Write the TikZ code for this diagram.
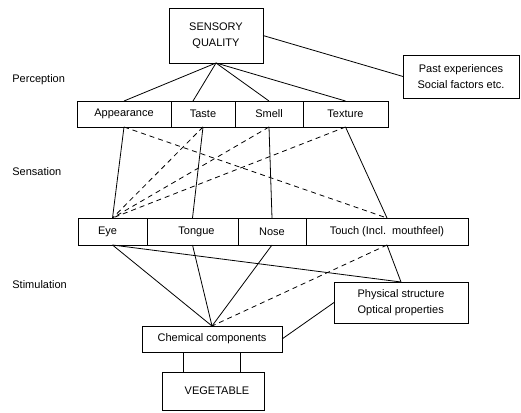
\documentclass[tikz,border=0pt]{standalone}
\usepackage{fontspec}
\setmainfont{Liberation Sans}
\begin{document}
\begin{tikzpicture}[x=1pt,y=-1pt,line width=0.8pt,
  font=\fontsize{11}{15.5}\selectfont,
  box/.style={draw,rectangle,inner sep=0pt,outer sep=0pt,align=center},
  dsh/.style={dash pattern=on 5pt off 4pt},
  lbl/.style={anchor=west,inner sep=0pt}]
\useasboundingbox (0,0) rectangle (521,412);
% top
\node[box,minimum width=94pt,minimum height=55pt] (sq) at (216,35.5) {SENSORY\\QUALITY};
\node[box,minimum width=116pt,minimum height=43pt] (past) at (461,76.5) {Past experiences\\Social factors etc.};
% perception row
\node[box,minimum width=94pt,minimum height=26pt] (app) at (124,114) {Appearance};
\node[box,minimum width=64pt,minimum height=26pt] (taste) at (203,114) {Taste};
\node[box,minimum width=68pt,minimum height=26pt] (smell) at (269,114) {Smell};
\node[box,minimum width=85pt,minimum height=26pt] (text) at (345.5,114) {Texture};
% sensation row
\node[box,minimum width=69pt,minimum height=27pt] (eye) at (112.5,231.5) {Eye\hspace{10pt}};
\node[box,minimum width=91pt,minimum height=27pt] (tongue) at (192.5,231.5) {\hspace{8pt}Tongue};
\node[box,minimum width=68pt,minimum height=27pt] (nose) at (272,231.5) {Nose};
\node[box,minimum width=162pt,minimum height=27pt] (touch) at (387,231.5) {Touch (Incl.\ \ mouthfeel)};
% bottom
\node[box,minimum width=134pt,minimum height=41pt,align=left] (phys) at (401,302.5) {Physical structure\\Optical properties\hspace{6pt}};
\node[box,minimum width=140pt,minimum height=26pt] (chem) at (212,339) {Chemical components};
\node[box,minimum width=102pt,minimum height=38pt] (veg) at (213,391) {\hspace{8pt}VEGETABLE};
% labels
\node[lbl] (lp) at (12,80) {Perception};
\node[lbl] (ls) at (12,172) {Sensation};
\node[lbl] (lst) at (12,285) {Stimulation};
% connectors top
\draw (sq.east) -- (past.west);
\draw (sq.south) -- (app.north);
\draw (sq.south) -- ([xshift=-10pt]taste.north);
\draw (sq.south) -- (smell.north);
\draw (sq.south) -- (text.north);
% perception to sensation
\draw (app.south) -- (eye.north);
\draw (taste.south) -- (tongue.north);
\draw (smell.south) -- (nose.north);
\draw (text.south) -- (touch.north);
\draw[dsh] (app.south) -- (touch.north);
\draw[dsh] (taste.south) -- (eye.north);
\draw[dsh] (smell.south) -- (eye.north);
\draw[dsh] (text.south) -- (eye.north);
% sensation to stimulation
\draw (eye.south) -- (chem.north);
\draw (tongue.south) -- (chem.north);
\draw (nose.south) -- (chem.north);
\draw[dsh] (touch.south) -- (chem.north);
\draw (eye.south) -- (phys.north);
\draw (touch.south) -- (phys.north);
\draw (phys.west) -- (chem.east);
\draw ([xshift=-29pt]chem.south) -- ([xshift=-30pt]veg.north);
\draw ([xshift=28pt]chem.south) -- ([xshift=27pt]veg.north);
\end{tikzpicture}
\end{document}
